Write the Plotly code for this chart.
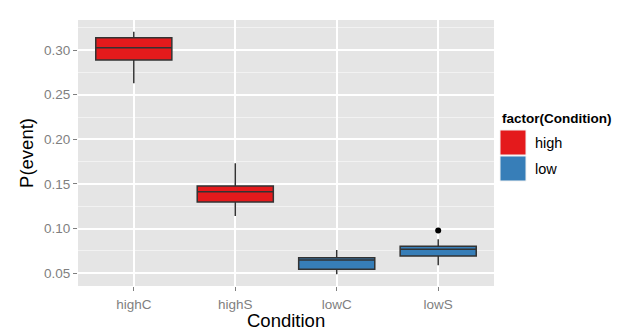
import plotly.graph_objects as go

# box stats
conditions = ["highC", "highS", "lowC", "lowS"]
groups = ["high", "high", "low", "low"]
lower = [0.2627, 0.1141, 0.0489, 0.0590]
q1 = [0.2888, 0.1298, 0.0545, 0.0694]
median = [0.3026, 0.1414, 0.0649, 0.0769]
q3 = [0.3138, 0.1478, 0.0675, 0.0803]
upper = [0.3205, 0.1732, 0.0761, 0.0881]
outlier_x = ["lowS"]
outlier_y = [0.0978]

colors = {"high": "#E41A1C", "low": "#377EB8"}
font = "Liberation Sans, Arial, sans-serif"

# the page body has an 8px margin, so the figure is a bit smaller and shifted
W, H = 624, 325
L, T, R, B = 70, 12, 138, 47

fig = go.Figure()
for g in ["high", "low"]:
    idx = [i for i, gg in enumerate(groups) if gg == g]
    fig.add_trace(go.Box(
        x=[conditions[i] for i in idx],
        q1=[q1[i] for i in idx],
        median=[median[i] for i in idx],
        q3=[q3[i] for i in idx],
        lowerfence=[lower[i] for i in idx],
        upperfence=[upper[i] for i in idx],
        fillcolor=colors[g],
        line=dict(color="#333333", width=1.5),
        width=0.75,
        whiskerwidth=0,
        boxpoints=False,
        name=g,
        showlegend=False,
        hoverinfo="skip",
    ))

fig.add_trace(go.Scatter(
    x=outlier_x, y=outlier_y, mode="markers",
    marker=dict(color="black", size=6), showlegend=False, hoverinfo="skip",
))

fig.update_layout(
    width=W, height=H,
    margin=dict(l=L, r=R, t=T, b=B),
    paper_bgcolor="white",
    plot_bgcolor="#E5E5E5",
    font=dict(family=font),
    boxmode="overlay",
    xaxis=dict(
        categoryorder="array", categoryarray=conditions,
        range=[-0.55, 3.55], automargin=False,
        showgrid=True, gridcolor="white", gridwidth=1.5,
        ticks="outside", ticklen=4, tickcolor="#7F7F7F",
        ticklabelstandoff=2,
        tickfont=dict(size=13.5, color="#7F7F7F"),
        zeroline=False,
    ),
    yaxis=dict(
        range=[0.0358, 0.3336], automargin=False,
        tickvals=[0.05, 0.10, 0.15, 0.20, 0.25, 0.30],
        ticktext=["0.05", "0.10", "0.15", "0.20", "0.25", "0.30"],
        showgrid=True, gridcolor="white", gridwidth=1.5,
        minor=dict(tickvals=[0.075, 0.125, 0.175, 0.225, 0.275, 0.325],
                   showgrid=True, gridcolor="#F2F2F2", gridwidth=0.6),
        ticks="outside", ticklen=4, tickcolor="#7F7F7F",
        tickfont=dict(size=13.5, color="#7F7F7F"),
        title=dict(text="P(event)", font=dict(size=18.5, color="black"), standoff=5),
        zeroline=False,
    ),
)

# legend and x title placed by hand, page pixel positions converted to paper coords
pw = W - L - R
ph = H - T - B
def px_x(x):
    return (x - 8 - L) / pw
def px_y(y):
    return 1 - (y - 8 - T) / ph

fig.add_annotation(x=0.5, y=px_y(320), xref="paper", yref="paper",
                   text="Condition", showarrow=False,
                   xanchor="center", yanchor="middle",
                   font=dict(size=18.5, color="black", family=font))

legend_items = [("high", 130), ("low", 156)]
fig.add_annotation(x=px_x(500), y=px_y(118), xref="paper", yref="paper",
                   text="<b>factor(Condition)</b>", showarrow=False,
                   xanchor="left", yanchor="middle",
                   font=dict(size=13.5, color="black", family=font))
for name, top in legend_items:
    fig.add_shape(type="rect", xref="paper", yref="paper",
                  x0=px_x(500), x1=px_x(526), y0=px_y(top), y1=px_y(top + 25),
                  fillcolor=colors[name], line=dict(color="#F2F2F2", width=1))
    fig.add_annotation(x=px_x(533), y=px_y(top + 12.5), xref="paper", yref="paper",
                       text=name, showarrow=False, xanchor="left", yanchor="middle",
                       font=dict(size=14.5, color="black", family=font))

fig.write_html("out.html")
